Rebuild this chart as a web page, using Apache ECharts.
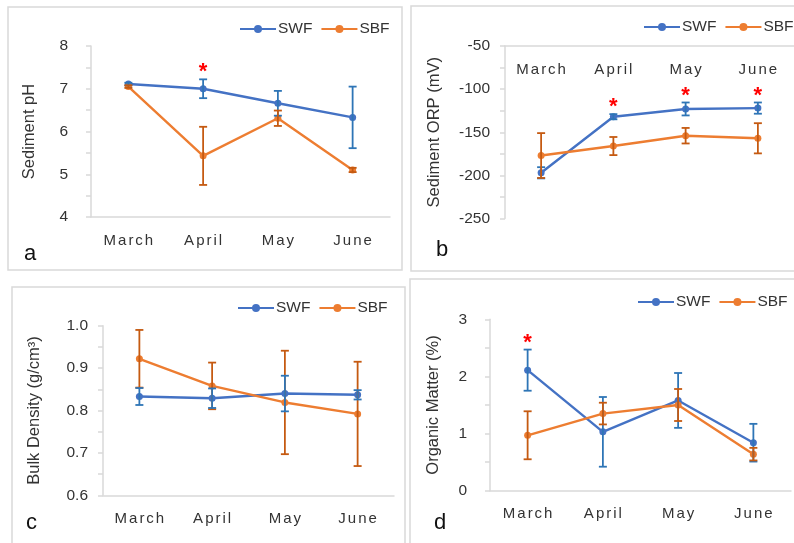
<!DOCTYPE html>
<html>
<head>
<meta charset="utf-8">
<script src="https://cdn.jsdelivr.net/npm/echarts@6/dist/echarts.min.js"></script>
<style>
  html, body { margin: 0; padding: 0; background: #fff; }
  #chart { width: 794px; height: 543px; }
</style>
</head>
<body>
<div id="chart"></div>
<script>
// Sampling months
const months = ['March', 'April', 'May', 'June'];

// (a) Sediment pH: mean and error
const phSWF = [7.11, 7.00, 6.66, 6.33];
const phSWFErr = [0.03, 0.22, 0.29, 0.72];
const phSBF = [7.05, 5.43, 6.31, 5.10];
const phSBFErr = [0.03, 0.68, 0.18, 0.05];
const phSig = [0, 1, 0, 0];

// (b) Sediment ORP (mV)
const orpSWF = [-197, -132, -123, -122];
const orpSWFErr = [6.5, 3, 7.5, 6.5];
const orpSBF = [-177, -166, -154, -157];
const orpSBFErr = [26, 10.5, 9, 17.5];
const orpSig = [0, 1, 1, 1];

// (c) Bulk density (g/cm3)
const bdSWF = [0.833, 0.829, 0.840, 0.837];
const bdSWFErr = [0.02, 0.023, 0.042, 0.011];
const bdSBF = [0.922, 0.858, 0.819, 0.792];
const bdSBFErr = [0.068, 0.055, 0.122, 0.123];
const bdSig = [0, 0, 0, 0];

// (d) Organic matter (%)
const omSWF = [2.11, 1.03, 1.58, 0.84];
const omSWFErr = [0.36, 0.61, 0.48, 0.33];
const omSBF = [0.97, 1.35, 1.50, 0.64];
const omSBFErr = [0.42, 0.19, 0.28, 0.11];
const omSig = [1, 0, 0, 0];

const FONT = '"Liberation Sans", Arial, sans-serif';
const BLUE = '#4472C4', BLUE_ERR = '#2E75B6';
const ORANGE = '#ED7D31', ORANGE_ERR = '#C55A11';
const AXIS = '#d9d9d9', TEXT = '#333333';
const NONE = [0, 0, 0, 0];

const chart = echarts.init(document.getElementById('chart'));

// Month labels are drawn letter by letter to get a little tracking
function monthLabel(extra) {
  return Object.assign({
    margin: 16, interval: 0,
    formatter: v => v.split('').map(c => '{t|' + c + '}').join(''),
    rich: { t: { fontSize: 15, fontFamily: FONT, color: TEXT, padding: [0, 1, 0, 1] } }
  }, extra || {});
}

function catAxis(gridIndex, extra) {
  return Object.assign({
    type: 'category', gridIndex, data: months, boundaryGap: true,
    axisLine: { show: true, lineStyle: { color: AXIS, width: 1.5 } },
    axisTick: { show: false },
    axisLabel: monthLabel(),
    splitLine: { show: false }
  }, extra || {});
}

function valAxis(gridIndex, min, max, interval, labelFn, name, nameGap, margin) {
  return {
    type: 'value', gridIndex, min, max, interval,
    name, nameLocation: 'middle', nameGap, nameRotate: 90,
    nameTextStyle: { fontSize: 16.5, fontFamily: FONT, color: TEXT },
    axisLine: { show: true, lineStyle: { color: AXIS, width: 1.5 } },
    axisTick: { show: true, length: 5, lineStyle: { color: AXIS, width: 1.5 } },
    axisLabel: { formatter: labelFn, fontSize: 15.5, fontFamily: FONT, color: TEXT, margin },
    splitLine: { show: false }
  };
}

function lineSeries(name, idx, values, color) {
  return {
    type: 'line', name, xAxisIndex: idx, yAxisIndex: idx, data: values,
    symbol: 'circle', symbolSize: 7, z: 2,
    lineStyle: { color, width: 2.4 }, itemStyle: { color },
    emphasis: { disabled: true }
  };
}

// Vertical error bars with caps; a red asterisk above the bar marks significance
function errorSeries(idx, values, errs, sig, color) {
  return {
    type: 'custom', xAxisIndex: idx, yAxisIndex: idx, z: 3, silent: true,
    data: values.map((v, i) => [i, v, errs[i], sig[i]]),
    renderItem: (params, api) => {
      const i = api.value(0), m = api.value(1), e = api.value(2);
      const top = api.coord([i, m + e]);
      const bot = api.coord([i, m - e]);
      const hw = 4;
      const st = { stroke: color, lineWidth: 1.8 };
      const children = [
        { type: 'line', shape: { x1: top[0], y1: top[1], x2: bot[0], y2: bot[1] }, style: st },
        { type: 'line', shape: { x1: top[0] - hw, y1: top[1], x2: top[0] + hw, y2: top[1] }, style: st },
        { type: 'line', shape: { x1: bot[0] - hw, y1: bot[1], x2: bot[0] + hw, y2: bot[1] }, style: st }
      ];
      if (api.value(3)) {
        children.push({
          type: 'text',
          style: { text: '*', x: top[0], y: top[1] + 4, align: 'center', verticalAlign: 'bottom',
                   fill: '#FF0000', font: 'bold 22px ' + FONT }
        });
      }
      return { type: 'group', children };
    }
  };
}

function legend(left, top) {
  return {
    left, top, width: 240, padding: 0, orient: 'horizontal', data: ['SWF', 'SBF'],
    itemWidth: 36, itemHeight: 10, itemGap: 8, selectedMode: false,
    textStyle: { fontSize: 15.5, fontFamily: FONT, color: TEXT, padding: [0, 0, 0, -3] }
  };
}

const every = (k) => v => (Math.abs(v / k - Math.round(v / k)) < 1e-6 ? String(v) : '');

const option = {
  animation: false,
  backgroundColor: '#ffffff',
  legend: [legend(239, 21), legend(643, 19), legend(237, 300), legend(637, 294)],
  grid: [
    { left: 91, top: 46, width: 299, height: 171 },
    { left: 505, top: 46, width: 291, height: 172.5 },
    { left: 103, top: 325.7, width: 291, height: 169.6 },
    { left: 490, top: 319.3, width: 301, height: 171.4 }
  ],
  xAxis: [
    catAxis(0),
    catAxis(1, { position: 'top', axisLabel: monthLabel({ inside: true, margin: 16 }) }),
    catAxis(2),
    catAxis(3)
  ],
  yAxis: [
    valAxis(0, 4, 8, 0.5, every(1), 'Sediment pH', 53.5, 23),
    valAxis(1, -250, -50, 25, every(50), 'Sediment ORP (mV)', 62.5, 15),
    valAxis(2, 0.6, 1.0, 0.05, v => (Math.abs(v * 10 - Math.round(v * 10)) < 1e-6 ? v.toFixed(1) : ''),
            'Bulk Density (g/cm\u00B3)', 60.5, 15),
    valAxis(3, 0, 3, 0.5, every(1), 'Organic Matter (%)', 48.5, 23)
  ],
  series: [
    lineSeries('SWF', 0, phSWF, BLUE), lineSeries('SBF', 0, phSBF, ORANGE),
    errorSeries(0, phSWF, phSWFErr, phSig, BLUE_ERR), errorSeries(0, phSBF, phSBFErr, NONE, ORANGE_ERR),

    lineSeries('SWF', 1, orpSWF, BLUE), lineSeries('SBF', 1, orpSBF, ORANGE),
    errorSeries(1, orpSWF, orpSWFErr, orpSig, BLUE_ERR), errorSeries(1, orpSBF, orpSBFErr, NONE, ORANGE_ERR),

    lineSeries('SWF', 2, bdSWF, BLUE), lineSeries('SBF', 2, bdSBF, ORANGE),
    errorSeries(2, bdSBF, bdSBFErr, NONE, ORANGE_ERR), errorSeries(2, bdSWF, bdSWFErr, bdSig, BLUE_ERR),

    lineSeries('SWF', 3, omSWF, BLUE), lineSeries('SBF', 3, omSBF, ORANGE),
    errorSeries(3, omSWF, omSWFErr, omSig, BLUE_ERR), errorSeries(3, omSBF, omSBFErr, NONE, ORANGE_ERR)
  ],
  graphic: [
    // panel frames
    { type: 'rect', shape: { x: 8, y: 7, width: 394, height: 263 }, style: { fill: 'none', stroke: AXIS, lineWidth: 1.5 }, silent: true },
    { type: 'rect', shape: { x: 411, y: 6, width: 400, height: 265 }, style: { fill: 'none', stroke: AXIS, lineWidth: 1.5 }, silent: true },
    { type: 'rect', shape: { x: 12, y: 287, width: 393, height: 270 }, style: { fill: 'none', stroke: AXIS, lineWidth: 1.5 }, silent: true },
    { type: 'rect', shape: { x: 410, y: 279, width: 400, height: 280 }, style: { fill: 'none', stroke: AXIS, lineWidth: 1.5 }, silent: true },
    // panel letters
    { type: 'text', x: 24, y: 254, style: { text: 'a', font: '22px ' + FONT, fill: '#111', verticalAlign: 'middle' }, silent: true },
    { type: 'text', x: 436, y: 250, style: { text: 'b', font: '22px ' + FONT, fill: '#111', verticalAlign: 'middle' }, silent: true },
    { type: 'text', x: 26, y: 523, style: { text: 'c', font: '22px ' + FONT, fill: '#111', verticalAlign: 'middle' }, silent: true },
    { type: 'text', x: 434, y: 523, style: { text: 'd', font: '22px ' + FONT, fill: '#111', verticalAlign: 'middle' }, silent: true }
  ]
};

chart.setOption(option);
</script>
</body>
</html>
